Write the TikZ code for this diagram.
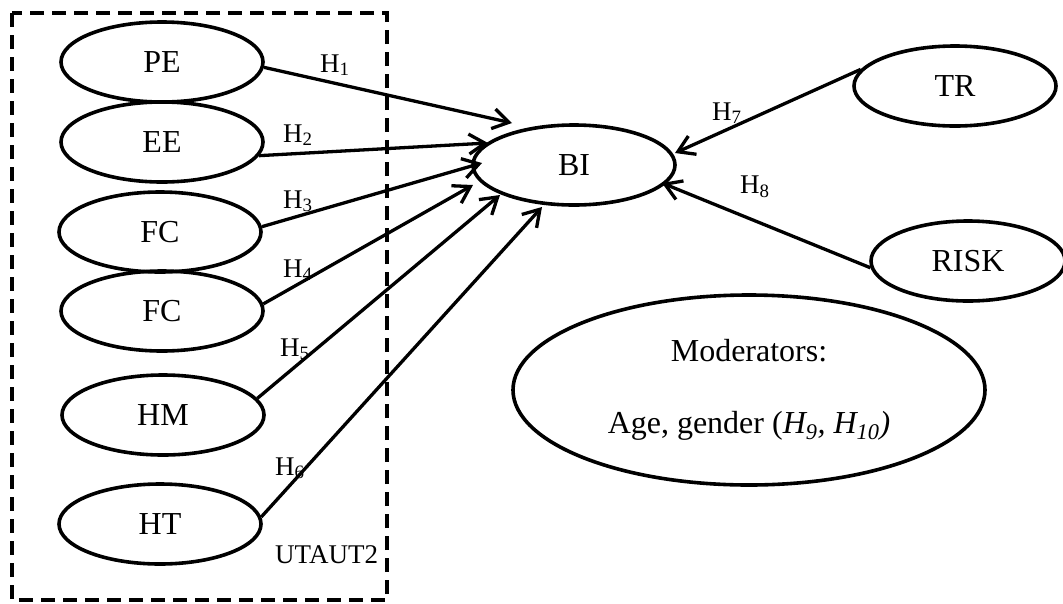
\documentclass[tikz,border=0pt]{standalone}
\usepackage{fontspec}
\setmainfont{Liberation Serif}
\usetikzlibrary{shapes.geometric,arrows.meta}
\begin{document}
\begin{tikzpicture}[x=1pt,y=-1pt,
  cons/.style={ellipse,draw,line width=3.6pt,minimum width=202pt,minimum height=80pt,inner sep=0pt,font=\fontsize{32}{38}\selectfont},
  hyp/.style={anchor=base west,inner sep=0pt,font=\fontsize{27}{32}\selectfont},
  link/.style={line width=3.3pt,-{Straight Barb[length=16pt,width=20pt]}}]
\useasboundingbox (0,0) rectangle (1063,603);
\draw[line width=4pt, dash pattern=on 14pt off 8pt] (12,13) rectangle (387,600);
\node[cons] (PE) at (162,62) {PE};
\node[cons] (EE) at (162,142) {EE};
\node[cons] (FC1) at (160,232) {FC};
\node[cons] (FC2) at (162,311) {FC};
\node[cons] (HM) at (163,415) {HM};
\node[cons] (HT) at (160,524) {HT};
\node[cons] (BI) at (574,165) {BI};
\node[cons] (TR) at (955,86) {TR};
\node[cons,minimum width=194pt] (RISK) at (968,261) {RISK};
\node[cons,minimum width=472pt,minimum height=190pt,align=center] (MOD) at (749,390)
  {Moderators:\\[34pt]Age, gender (\textit{H\textsubscript{9},} \textit{H\textsubscript{10})}};
\coordinate (t1) at (512,123);
\coordinate (t2) at (488,143);
\coordinate (t3) at (482,163);
\coordinate (t4) at (473,185);
\coordinate (t5) at (500,195);
\coordinate (t6) at (542,207);
\coordinate (t7) at (675,153);
\coordinate (t8) at (662,183);
\draw[link] (PE.-3) -- (t1);
\draw[link] (EE.-8) -- (t2);
\draw[link] (FC1.3) -- (t3);
\draw[link] (FC2.4) -- (t4);
\draw[link] (HM.10) -- (t5);
\draw[link] (HT.4) -- (t6);
\draw[link] (TR.170) -- (t7);
\draw[link] (RISK.184) -- (t8);
\node[hyp] (h1) at (320,72) {H\textsubscript{1}};
\node[hyp] (h2) at (283,142) {H\textsubscript{2}};
\node[hyp] (h3) at (283,208) {H\textsubscript{3}};
\node[hyp] (h4) at (283,277) {H\textsubscript{4}};
\node[hyp] (h5) at (280,356) {H\textsubscript{5}};
\node[hyp] (h6) at (275,475) {H\textsubscript{6}};
\node[hyp] (h7) at (712,120) {H\textsubscript{7}};
\node[hyp] (h8) at (740,193) {H\textsubscript{8}};
\node[hyp] (ut) at (275,563) {UTAUT2};
\end{tikzpicture}
\end{document}
